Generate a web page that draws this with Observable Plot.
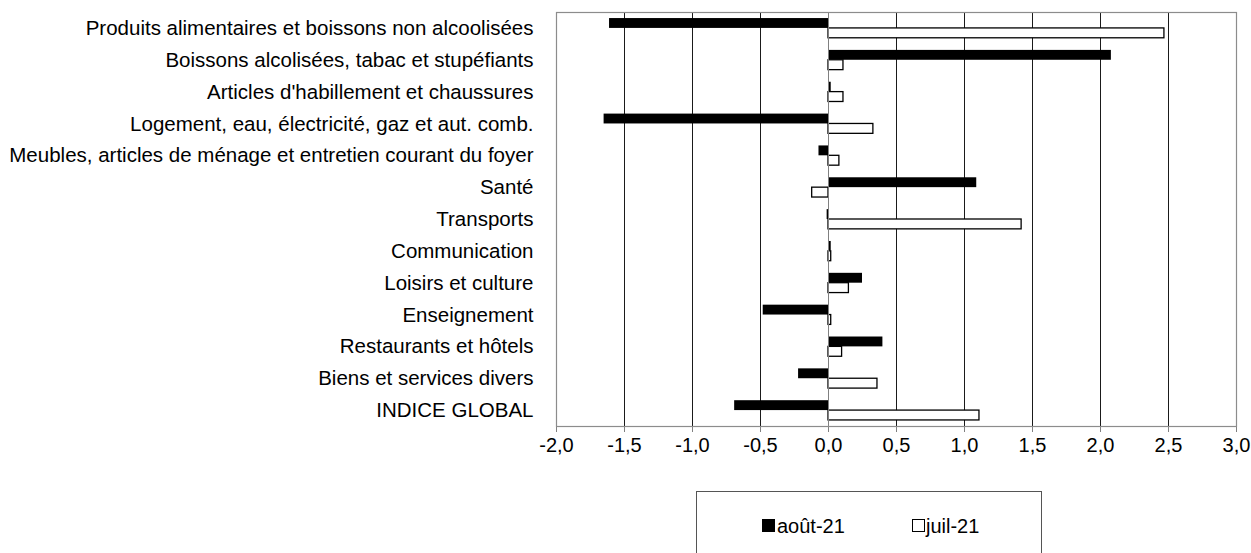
<!DOCTYPE html>
<html><head><meta charset="utf-8">
<script src="https://cdn.jsdelivr.net/npm/d3@7"></script>
<script src="https://cdn.jsdelivr.net/npm/@observablehq/plot@0.6"></script>
<style>
body{margin:0;background:#fff;font-family:"Liberation Sans",Arial,sans-serif;}
#wrap{position:relative;width:1251px;height:553px;overflow:hidden;background:#fff}
#chart svg{display:block}
.legend{position:absolute;left:696px;top:491px;width:346px;height:80px;border:1.5px solid #555;box-sizing:border-box;font-size:20px;color:#000}
.sw{position:absolute;box-sizing:border-box}
.lbl{position:absolute;line-height:20px;white-space:nowrap}
</style>
</head><body>
<div id="wrap"><div id="chart"></div>
<div class="legend" id="legend"></div></div>
<script>
const categories = [
  "Produits alimentaires et boissons non alcoolisées",
  "Boissons alcolisées, tabac et stupéfiants",
  "Articles d'habillement et chaussures",
  "Logement, eau, électricité, gaz et aut. comb.",
  "Meubles, articles de ménage et entretien courant du foyer",
  "Santé",
  "Transports",
  "Communication",
  "Loisirs et culture",
  "Enseignement",
  "Restaurants et hôtels",
  "Biens et services divers",
  "INDICE GLOBAL"
];
const seriesNames = ["août-21", "juil-21"];
const aout21 = [-1.61, 2.08, 0.02, -1.65, -0.07, 1.09, -0.01, 0.02, 0.25, -0.48, 0.40, -0.22, -0.69];
const juil21 = [2.47, 0.11, 0.11, 0.33, 0.08, -0.12, 1.42, 0.02, 0.15, 0.02, 0.10, 0.36, 1.11];
const xTicks = [-2, -1.5, -1, -0.5, 0, 0.5, 1, 1.5, 2, 2.5, 3];

const aoutData = categories.map((c, i) => ({cat: c, value: aout21[i]}));
const juilData = categories.map((c, i) => ({cat: c, value: juil21[i]}));

const height = 460, marginTop = 12, marginBottom = 34;
const step = (height - marginTop - marginBottom) / categories.length;
const pad = 0.38;
const half = step * (1 - pad) / 2;

const chart = Plot.plot({
  width: 1251,
  height,
  marginLeft: 556,
  marginRight: 15,
  marginTop,
  marginBottom,
  style: {fontSize: "20px", fontFamily: "'Liberation Sans', Arial, sans-serif", color: "#000", background: "#fff"},
  x: {domain: [-2, 3], ticks: xTicks, tickFormat: d => d.toFixed(1).replace(".", ","), tickSize: 6, tickPadding: 5, label: null},
  y: {domain: categories, paddingInner: pad, paddingOuter: pad / 2, round: false, tickSize: 0, tickPadding: 23, label: null},
  marks: [
    Plot.ruleX(xTicks.filter(t => t !== -2 && t !== 3 && t !== 0), {stroke: "#1a1a1a", strokeWidth: 1}),
    Plot.barX(aoutData, {x: "value", y: "cat", fill: "#000", insetBottom: half}),
    Plot.barX(juilData, {x: "value", y: "cat", fill: "#fff", stroke: "#000", strokeWidth: 1.3, insetTop: half}),
    Plot.ruleX([0], {stroke: "#808080", strokeWidth: 1}),
    Plot.frame({stroke: "#8c8c8c", strokeWidth: 1.2})
  ]
});
chart.querySelectorAll("[aria-label='y-axis tick label'] text").forEach(t => t.style.fontSize = "20.5px");
chart.querySelectorAll("[aria-label='x-axis tick']").forEach(g => g.setAttribute("stroke", "#808080"));
document.getElementById("chart").appendChild(chart);

const legend = document.getElementById("legend");
const items = [
  {name: seriesNames[0], sx: 65, sw: 13, style: "background:#000", tx: 80},
  {name: seriesNames[1], sx: 215, sw: 13, style: "background:#fff;border:1.5px solid #000", tx: 229}
];
items.forEach(it => {
  const s = document.createElement("div");
  s.className = "sw";
  s.style.cssText = `left:${it.sx}px;top:27px;width:${it.sw}px;height:${it.sw}px;${it.style}`;
  legend.appendChild(s);
  const t = document.createElement("div");
  t.className = "lbl";
  t.style.left = it.tx + "px";
  t.style.top = "24px";
  t.textContent = it.name;
  legend.appendChild(t);
});
</script>
</body></html>
